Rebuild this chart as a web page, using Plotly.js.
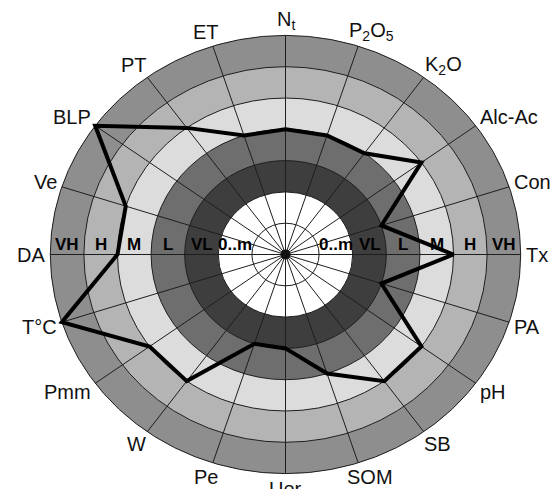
<!DOCTYPE html>
<html>
<head>
<meta charset="utf-8">
<script src="https://cdn.plot.ly/plotly-3.0.1.min.js"></script>
<style>html,body{margin:0;padding:0;background:#fff;}#chart{width:558px;height:489px;}</style>
</head>
<body>
<div id="chart"></div>
<script>
// ---- data ----
var categories = ["N<sub>t</sub>", "P<sub>2</sub>O<sub>5</sub>", "K<sub>2</sub>O", "Alc-Ac", "Con", "Tx", "PA", "pH", "SB", "SOM",
                  "Uer", "Pe", "W", "Pmm", "T°C", "DA", "Ve", "BLP", "PT", "ET"];
var values = [4, 4, 4, 5, 3, 5, 3, 5, 5, 4,
              3, 3, 5, 5, 7, 5, 5, 7, 5, 4];
var ringLabels = ["0..m", "VL", "L", "M", "H", "VH"];
var ringOuter = [2, 3, 4, 5, 6, 7];          // outer edge of each class band
var ringColors = ["#ffffff", "#3e3e3e", "#6e6e6e", "#dcdcdc", "#b4b4b4", "#8e8e8e"];

// ---- geometry / styling ----
var W = 558, H = 489, cx = 285.5, cy = 254.5;
var kx = 33.6, ky = 31.3;  // px per unit (chart is slightly elliptical)
var RMAX = 7;
var n = categories.length;
function ang(i) { return i * 2 * Math.PI / n; }

var shapes = [];
for (var k = ringOuter.length - 1; k >= 0; k--) {
  var r = ringOuter[k];
  shapes.push({type: "circle", xref: "x", yref: "y", x0: -r, x1: r, y0: -r, y1: r,
               fillcolor: ringColors[k], line: {color: "#1e1e1e", width: 1}, layer: "below"});
}
shapes.push({type: "circle", xref: "x", yref: "y", x0: -1, x1: 1, y0: -1, y1: 1,
             line: {color: "#1e1e1e", width: 1}, layer: "below"});
for (var i = 0; i < n; i++) {
  var a = ang(i);
  shapes.push({type: "line", xref: "x", yref: "y", x0: 0, y0: 0,
               x1: RMAX * Math.sin(a), y1: RMAX * Math.cos(a),
               line: {color: "#1e1e1e", width: 1}, layer: "below"});
}
shapes.push({type: "circle", xref: "x", yref: "y", xsizemode: "pixel", ysizemode: "pixel",
             xanchor: 0, yanchor: 0, x0: -5, x1: 5, y0: -5, y1: 5,
             fillcolor: "#111", line: {width: 0}, layer: "below"});

var px = [], py = [];
for (var i = 0; i <= n; i++) {
  var j = i % n, a = ang(j);
  px.push(values[j] * Math.sin(a));
  py.push(values[j] * Math.cos(a));
}
var traces = [{
  type: "scatter", mode: "lines", x: px, y: py,
  line: {color: "#000", width: 4}, hoverinfo: "skip", showlegend: false
}];

var cnv = document.createElement("canvas").getContext("2d");
cnv.font = '20px "Liberation Sans", Arial, sans-serif';
function textW(t) { return cnv.measureText(t.replace(/<[^>]+>/g, "")).width; }
function clamp(v) { return Math.max(-1, Math.min(1, v)); }

var annotations = [];
var gap = 5, hh = 10;
for (var i = 0; i < n; i++) {
  var a = ang(i), s = Math.sin(a), c = Math.cos(a);
  var hw = textW(categories[i]) / 2;
  var dxp = s * gap + hw * clamp(s / 0.7);
  var dyp = c * gap + hh * c;
  annotations.push({
    x: RMAX * s + dxp / kx, y: RMAX * c + dyp / ky, xref: "x", yref: "y",
    text: categories[i], showarrow: false, xanchor: "center", yanchor: "middle",
    font: {family: '"Liberation Sans", Arial, sans-serif', size: 20, color: "#111"}
  });
}
[-1, 1].forEach(function (side) {
  for (var k = 0; k < ringLabels.length; k++) {
    var mid = (k === 0) ? 1.5 : ringOuter[k] - 0.5;
    annotations.push({
      x: side * mid, y: 0, xref: "x", yref: "y", text: "<b>" + ringLabels[k] + "</b>",
      showarrow: false, xanchor: "center", yanchor: "bottom", yshift: -1,
      font: {family: '"Liberation Sans", Arial, sans-serif', size: 17, color: "#000"}
    });
  }
});

var layout = {
  width: W, height: H,
  margin: {l: 0, r: 0, t: 0, b: 0, pad: 0},
  paper_bgcolor: "#fff", plot_bgcolor: "#fff",
  xaxis: {range: [-cx / kx, (W - cx) / kx], visible: false, showgrid: false, zeroline: false, fixedrange: true},
  yaxis: {range: [(cy - H) / ky, cy / ky], visible: false, showgrid: false, zeroline: false, fixedrange: true},
  shapes: shapes, annotations: annotations, showlegend: false
};
Plotly.newPlot("chart", traces, layout, {displayModeBar: false, staticPlot: true});
</script>
</body>
</html>
